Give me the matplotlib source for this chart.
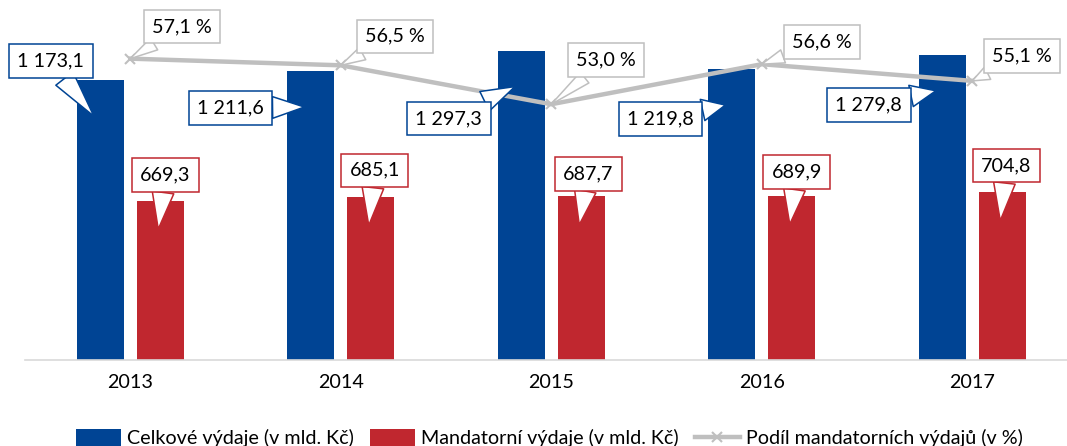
import matplotlib
matplotlib.use("Agg")
import matplotlib.pyplot as plt
import numpy as np

plt.rcParams["font.family"] = ["Lato", "DejaVu Sans"]

# --- data ---
years = ["2013", "2014", "2015", "2016", "2017"]
celkove = [1173.1, 1211.6, 1297.3, 1219.8, 1279.8]
mandatorni = [669.3, 685.1, 687.7, 689.9, 704.8]
podil = [57.1, 56.5, 53.0, 56.6, 55.1]

celkove_lbl = ["1 173,1", "1 211,6", "1 297,3", "1 219,8", "1 279,8"]
mandatorni_lbl = ["669,3", "685,1", "687,7", "689,9", "704,8"]
podil_lbl = ["57,1 %", "56,5 %", "53,0 %", "56,6 %", "55,1 %"]

# callout offsets (pixels, box centre relative to pointer tip)
off_blue = [(-43, 55), (-74, -1), (-66, -32), (-65, -14), (-67, -14)]
off_red = [(7, 54), (6, 55), (9, 51), (7, 52), (6, 55)]
off_gray = [(52, 32), (54, 29), (55, 44), (60, 22), (50, 25)]

BLUE = "#004494"
RED = "#C0272F"
GRAY = "#BFBFBF"
FS = 14.2

x = np.arange(len(years))
w = 0.223
d = 0.143

fig = plt.figure(figsize=(10.67, 4.46), dpi=100)
ax = fig.add_axes([25 / 1067, 86 / 446, 1 - 25 / 1067, 0.748])

b1 = ax.bar(x - d, celkove, w, color=BLUE, label="Celkové výdaje (v mld. Kč)")
b2 = ax.bar(x + d, mandatorni, w, color=RED, label="Mandatorní výdaje (v mld. Kč)")
ax.set_ylim(0, 1400)
ax.set_xlim(-0.5, 4.45)
ax.set_yticks([])
ax.set_xticks(x)
ax.set_xticklabels(years, fontsize=FS)
ax.tick_params(axis="x", length=0, pad=10)
for s in ["top", "right", "left"]:
    ax.spines[s].set_visible(False)
ax.spines["bottom"].set_color("#D9D9D9")
ax.spines["bottom"].set_linewidth(1.2)

ax2 = ax.twinx()
ln, = ax2.plot(x, podil, color=GRAY, lw=3.2, marker="x", ms=7, mew=1.5,
               label="Podíl mandatorních výdajů (v %)")
ax2.set_ylim(30, 60)
ax2.set_yticks([])
for s in ax2.spines.values():
    s.set_visible(False)


def callout(text, xy, off, color, trans, tw=1.1):
    ax2.annotate(
        text, xy=xy, xycoords=trans, xytext=off, textcoords="offset pixels",
        ha="center", va="center", fontsize=FS, zorder=10,
        bbox=dict(boxstyle="square,pad=0.42", fc="white", ec=color, lw=1.1),
        arrowprops=dict(arrowstyle=f"wedge,tail_width={tw},shrink_factor=0.5",
                        fc="white", ec=color, lw=1.1, shrinkA=0, shrinkB=0),
    )


for i in range(len(years)):
    callout(celkove_lbl[i], (x[i] - d - 0.03, celkove[i] - 150), off_blue[i], BLUE, ax.transData)
    callout(mandatorni_lbl[i], (x[i] + d - 0.01, mandatorni[i] - 120), off_red[i], RED, ax.transData)
    callout(podil_lbl[i], (x[i], podil[i]), off_gray[i], GRAY, ax2.transData, tw=0.7)

fig.legend(handles=[b1, b2, ln], loc="center", bbox_to_anchor=(0.515, 8 / 446),
           ncol=3, frameon=False, fontsize=FS, handlelength=2.3, handleheight=1.0,
           handletextpad=0.3, columnspacing=0.8)

fig.savefig("out.png", dpi=100)
